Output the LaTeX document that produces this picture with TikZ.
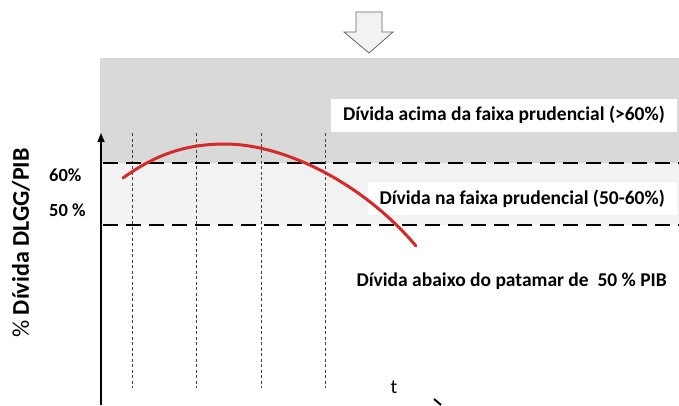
\documentclass[tikz,border=0pt]{standalone}
\usepackage{fontspec}
\setmainfont{Carlito}
\usetikzlibrary{arrows.meta}
\definecolor{darkband}{HTML}{D9D9D9}
\definecolor{lightband}{HTML}{F2F2F2}
\definecolor{curvered}{HTML}{D42A2A}
\tikzset{
  bandlbl/.style={fill=white, inner xsep=12pt, inner ysep=0pt, minimum height=33pt, font=\fontsize{19.5}{22}\selectfont\bfseries, anchor=east},
  limitline/.style={line width=2pt, dash pattern=on 15pt off 8pt},
  timeline/.style={line width=0.9pt, dash pattern=on 3pt off 2.5pt, black!75},
  pctlbl/.style={font=\fontsize{18.5}{22}\selectfont\bfseries, anchor=west, inner sep=0pt},
}
\begin{document}
\begin{tikzpicture}[x=1pt,y=-1pt]
\useasboundingbox (0,0) rectangle (679,405);
% bands
\fill[darkband] (100,58) rectangle (679,163);
\fill[lightband] (100,163) rectangle (679,225);
% down arrow
\draw[gray!80!black, fill=lightband, line width=0.8pt]
  (356,12) -- (382,12) -- (382,32) -- (393,32) -- (369,53) -- (344,32) -- (356,32) -- cycle;
% coordinates
\coordinate (axb) at (101,405);
\coordinate (axt) at (101,133);
\coordinate (l60a) at (103,163);
\coordinate (l60b) at (679,163);
\coordinate (l50a) at (103,225);
\coordinate (l50b) at (679,225);
% time verticals
\foreach \x [count=\i] in {132,196,261,325}{
  \coordinate (vt\i) at (\x,133);
  \coordinate (vb\i) at (\x,388);
  \draw[timeline] (vt\i) -- (vb\i);
}
% limit lines
\draw[limitline] (l60a) -- (l60b);
\draw[limitline] (l50a) -- (l50b);
% axis
\draw[line width=1.6pt, -{Triangle[length=9pt,width=7pt]}] (axb) -- (axt);
% labels
\node[bandlbl] (acima) at (677,115) {Dívida acima da faixa prudencial (>60\%)};
\node[bandlbl] (na) at (677,198.5) {Dívida na faixa prudencial (50-60\%)};
\node[bandlbl] (abaixo) at (679,281) {Dívida abaixo do patamar de\ \ 50 \% PIB};
\node[pctlbl] (p60) at (49,175) {60\%};
\node[pctlbl] (p50) at (49,210) {50 \%};
\node[rotate=90, font=\fontsize{24}{28}\selectfont, inner sep=0pt] (ylab) at (21,243) {\%\ \textbf{Dívida DLGG/PIB}};
\node[font=\fontsize{20}{24}\selectfont, inner sep=0pt] (tlab) at (394,387) {t};
% curve
\coordinate (cs) at (123,178);
\coordinate (cp) at (225,144);
\coordinate (ce) at (416,246);
\draw[curvered, line width=3pt, line cap=round]
  (cs) .. controls (155,155) and (185,144) .. (cp)
       .. controls (283,144) and (362,182) .. (ce);
% axis tip fragment at bottom
\coordinate (ta) at (434,399);
\coordinate (tb) at (441,405);
\draw[line width=2pt] (ta) -- (tb);
\end{tikzpicture}
\end{document}
